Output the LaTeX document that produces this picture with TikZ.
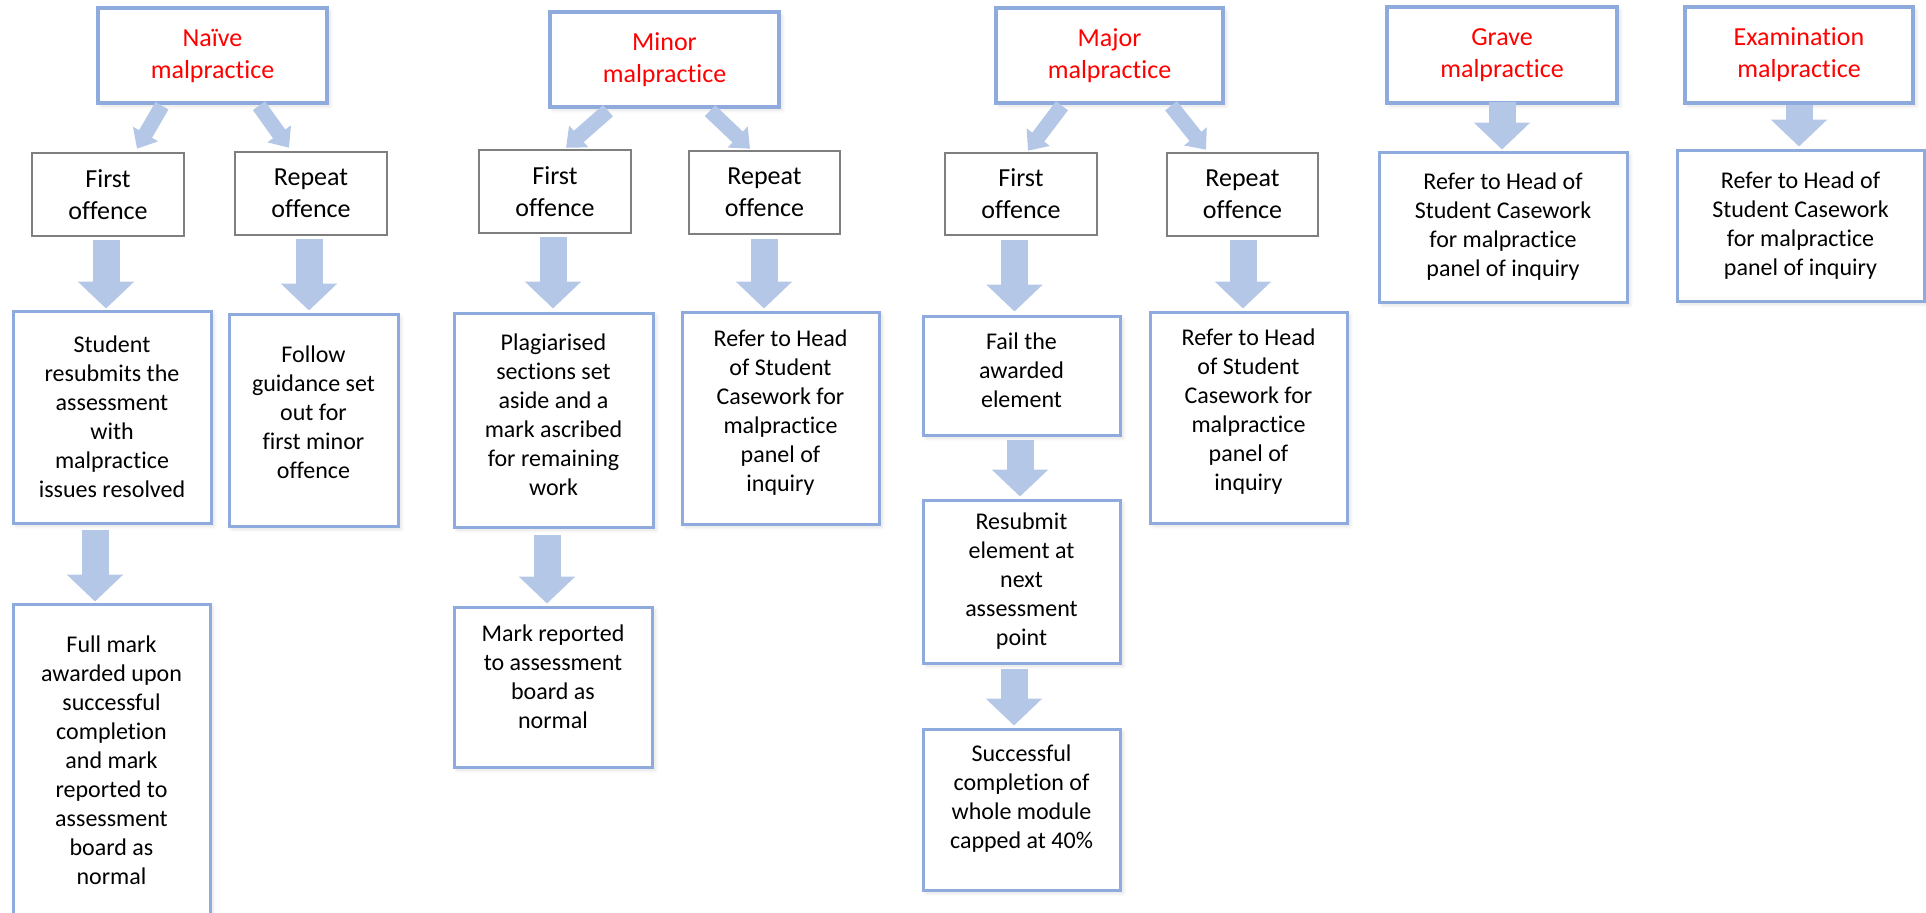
\documentclass[tikz,border=0pt]{standalone}
\usepackage{fontspec}
\setmainfont{Carlito}[Ligatures=CommonOff]
\usetikzlibrary{arrows.meta,calc,shadows.blur}
\definecolor{boxblue}{HTML}{8FAADC}
\definecolor{arrowblue}{HTML}{B4C7E7}
\definecolor{boxgray}{HTML}{7F7F7F}

\begin{document}
\begin{tikzpicture}[x=0.5pt, y=-0.5pt,
  card/.style={draw=boxblue, line width=1.5pt, fill=white, align=center, inner sep=2pt,
    font=\fontsize{12}{14.5}\selectfont,
    blur shadow={shadow xshift=1.5pt, shadow yshift=-1.5pt, shadow opacity=12, shadow blur steps=6}},
  headcard/.style={card, line width=1.7pt, text=red, font=\fontsize{13}{16}\selectfont},
  offcard/.style={draw=boxgray, line width=1.3pt, fill=white, align=center, font=\fontsize{13}{16}\selectfont},
  wh/.style 2 args={minimum width=#1pt, minimum height=#2pt},
  lift/.style={text depth=#1pt},
  downarrow/.style={draw=arrowblue, line width=13.5pt, -{Triangle[width=27.5pt,length=13.5pt]}},
  diagarrow/.style={draw=arrowblue, line width=7.5pt, -{Triangle[width=14pt,length=8.5pt]}}]
\useasboundingbox (0,0) rectangle (1926,912);

% naive malpractice
\node[headcard, wh={114.5}{47.5}] (naive) at (212.5,55.5) {Naïve\\malpractice};
\node[offcard, wh={76}{41.5}] (naivefirst) at (108,194.5) {First\\offence};
\node[offcard, wh={76}{41.5}] (naiverepeat) at (311,193.5) {Repeat\\offence};
\node[card, wh={99}{106}] (naiveresub) at (112,417) {Student\\resubmits the\\assessment\\with\\malpractice\\issues resolved};
\node[card, wh={84.5}{106}, lift=8] (naivefollow) at (313.5,420) {Follow\\guidance set\\out for\\first minor\\offence};
\node[card, wh={98.5}{156}] (naivefull) at (111.5,760) {Full mark\\awarded upon\\successful\\completion\\and mark\\reported to\\assessment\\board as\\normal};

% minor malpractice
\node[headcard, wh={114.5}{47.5}] (minor) at (664.5,59.5) {Minor\\malpractice};
\node[offcard, wh={76}{41.5}] (minorfirst) at (555,191.5) {First\\offence};
\node[offcard, wh={75.5}{41.5}] (minorrepeat) at (764.5,192.5) {Repeat\\offence};
\node[card, wh={99.5}{107}, lift=5.5] (minorplag) at (553.5,420) {Plagiarised\\sections set\\aside and a\\mark ascribed\\for remaining\\work};
\node[card, wh={98.5}{106}, lift=7] (minorrefer) at (780.5,418) {Refer to Head\\of Student\\Casework for\\malpractice\\panel of\\inquiry};
\node[card, wh={99}{80}, lift=10] (minormark) at (553,687) {Mark reported\\to assessment\\board as\\normal};

% major malpractice
\node[headcard, wh={113.5}{47.5}] (major) at (1109.5,55.5) {Major\\malpractice};
\node[offcard, wh={76}{41}] (majorfirst) at (1021,194) {First\\offence};
\node[offcard, wh={75.5}{41.5}] (majorrepeat) at (1242.5,194.5) {Repeat\\offence};
\node[card, wh={98.5}{59.5}, lift=5] (majorfail) at (1021.5,375.5) {Fail the\\awarded\\element};
\node[card, wh={98.5}{105.5}, lift=8] (majorrefer) at (1248.5,417.5) {Refer to Head\\of Student\\Casework for\\malpractice\\panel of\\inquiry};
\node[card, wh={98.5}{81.5}] (majorresub) at (1021.5,581.5) {Resubmit\\element at\\next\\assessment\\point};
\node[card, wh={98.5}{80.5}, lift=12.5] (majorsucc) at (1021.5,809.5) {Successful\\completion of\\whole module\\capped at 40\%};

% grave and examination malpractice
\node[headcard, wh={115}{48}] (grave) at (1502,55) {Grave\\malpractice};
\node[card, wh={124}{75}] (graverefer) at (1503,227) {Refer to Head of\\Student Casework\\for malpractice\\panel of inquiry};
\node[headcard, wh={114}{48}] (exam) at (1799,55) {Examination\\malpractice};
\node[card, wh={123.5}{75.5}] (examrefer) at (1800.5,225.5) {Refer to Head of\\Student Casework\\for malpractice\\panel of inquiry};

% block arrows
\foreach \s/\t/\sx/\sy/\tx/\ty in {naive/naivefirst/-50.5/1/29/-3, naive/naiverepeat/46.5/1/-22/-3,
  minor/minorfirst/-56.5/2/11/-1, minor/minorrepeat/45.5/2/-14.5/-1,
  major/majorfirst/-47.5/1/7/-1, major/majorrepeat/61.5/1/-36.5/-2}{
  \draw[diagarrow] ($(\s.south)+(\sx,\sy)$) -- ($(\t.north)+(\tx,\ty)$);
}
\foreach \s/\t/\sx/\sy/\tx/\ty in {naivefirst/naiveresub/-2/3/-6/-1, naiverepeat/naivefollow/-2/3/-4.5/-2,
  naiveresub/naivefull/-17/5/-16.5/-1, minorfirst/minorplag/-2/3/-0.5/-3,
  minorrepeat/minorrefer/-0.5/4/-16.5/-2, minorplag/minormark/-6.5/6/-6/-2,
  majorfirst/majorfail/-6.5/4/-7/-3, majorrepeat/majorrefer/0.5/3/-5.5/-2,
  majorfail/majorresub/-1.5/3/-1.5/-2, majorresub/majorsucc/-7.5/4/-7.5/-2,
  grave/graverefer/0/-3/-1/-1, exam/examrefer/0/0/-1.5/-2}{
  \draw[downarrow] ($(\s.south)+(\sx,\sy)$) -- ($(\t.north)+(\tx,\ty)$);
}
\end{tikzpicture}
\end{document}
